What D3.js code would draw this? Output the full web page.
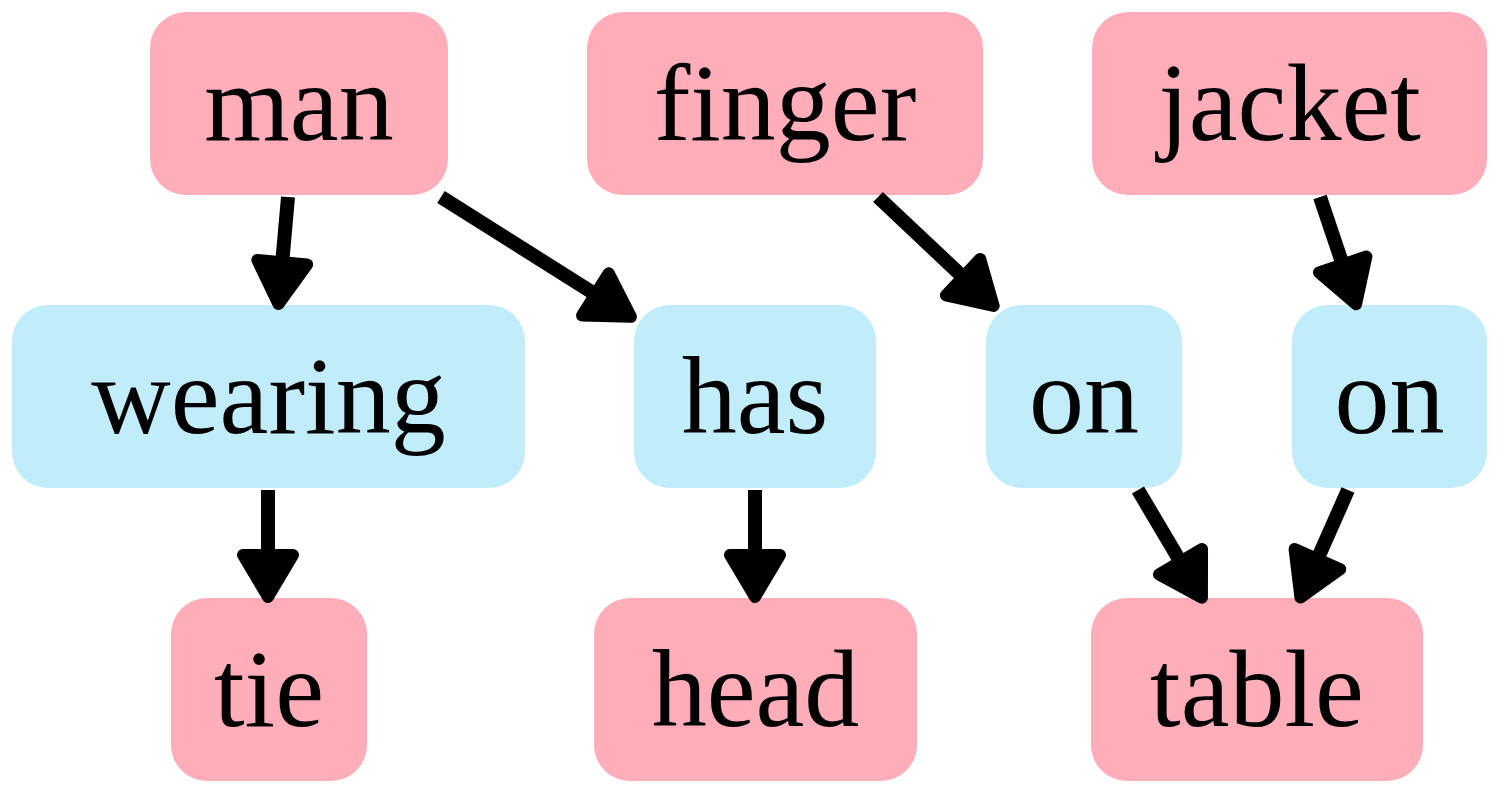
<!DOCTYPE html>
<html><head><meta charset="utf-8">
<script src="https://cdn.jsdelivr.net/npm/d3@7"></script>
<style>body{margin:0;background:#fff}</style>
</head><body><div id="graph"></div>
<script>
// scene graph: objects and relations
var labels = ["man","finger","jacket","wearing","has","on","on","tie","head","table"];
var kinds  = ["obj","obj","obj","rel","rel","rel","rel","obj","obj","obj"];
var rows   = [0,0,0,1,1,1,1,2,2,2];
var edgeFrom = [0,0,1,2,3,4,5,6];
var edgeTo   = [3,4,5,6,7,8,9,9];

// node boxes (left, right) in layout units
var boxX = [[150,448],[587,983],[1092,1487],[12,525],[634,876],[986,1182],[1292,1487],[171,367],[594,917],[1091,1423]];
// edge anchor points: start x, tip x
var edgeX = [[288,278],[441,636],[878,998],[1320,1358],[268,268],[755,755],[1138,1205],[1348,1298]];
var edgeTipY = [310,320,310,310,603,603,603,603];

var W = 1500, H = 795;
var svg = d3.select("#graph").append("svg").attr("width", W).attr("height", H);

var x = d3.scaleLinear().domain([0, 1500]).range([0, W]);
var yTop = d3.scalePoint().domain([0,1,2]).range([12, 598]);
var boxH = 183;
var color = {obj: "#ffadb9", rel: "#c1edfb"};

var nodes = labels.map(function(l, i){
    return {label: l, kind: kinds[i], x0: x(boxX[i][0]), x1: x(boxX[i][1]), y0: yTop(rows[i])};
});

svg.selectAll(".node").data(nodes).enter().append("rect")
    .attr("x", function(d){ return d.x0; })
    .attr("y", function(d){ return d.y0; })
    .attr("width", function(d){ return d.x1 - d.x0; })
    .attr("height", boxH)
    .attr("rx", 36)
    .attr("fill", function(d){ return color[d.kind]; });

svg.selectAll(".lab").data(nodes).enter().append("text")
    .attr("x", function(d){ return (d.x0 + d.x1) / 2; })
    .attr("y", function(d){ return d.y0 + boxH / 2 + 36; })
    .attr("text-anchor", "middle")
    .style("font-family", "'Liberation Serif', 'DejaVu Serif', serif")
    .style("font-size", "110px")
    .text(function(d){ return d.label; });

// edges
var edges = edgeFrom.map(function(f, i){
    var y0 = yTop(rows[f]) + boxH + 2;
    return {x0: x(edgeX[i][0]), y0: y0, x1: x(edgeX[i][1]), y1: edgeTipY[i]};
});

edges.forEach(function(e){
    var dx = e.x1 - e.x0, dy = e.y1 - e.y0, len = Math.sqrt(dx*dx + dy*dy);
    var ux = dx/len, uy = dy/len, px = -uy, py = ux;
    var headL = 48, headW = 25;
    var bx = e.x1 - ux*headL, by = e.y1 - uy*headL;
    svg.append("line")
        .attr("x1", e.x0).attr("y1", e.y0)
        .attr("x2", bx).attr("y2", by)
        .attr("stroke", "#000").attr("stroke-width", 14);
    var tx = e.x1 - ux*6, ty = e.y1 - uy*6;
    svg.append("polygon")
        .attr("points", [[tx,ty],[bx+px*headW, by+py*headW],[bx-px*headW, by-py*headW]].map(function(p){ return p.join(","); }).join(" "))
        .attr("fill", "#000").attr("stroke", "#000")
        .attr("stroke-width", 12).attr("stroke-linejoin", "round");
});
</script></body></html>
